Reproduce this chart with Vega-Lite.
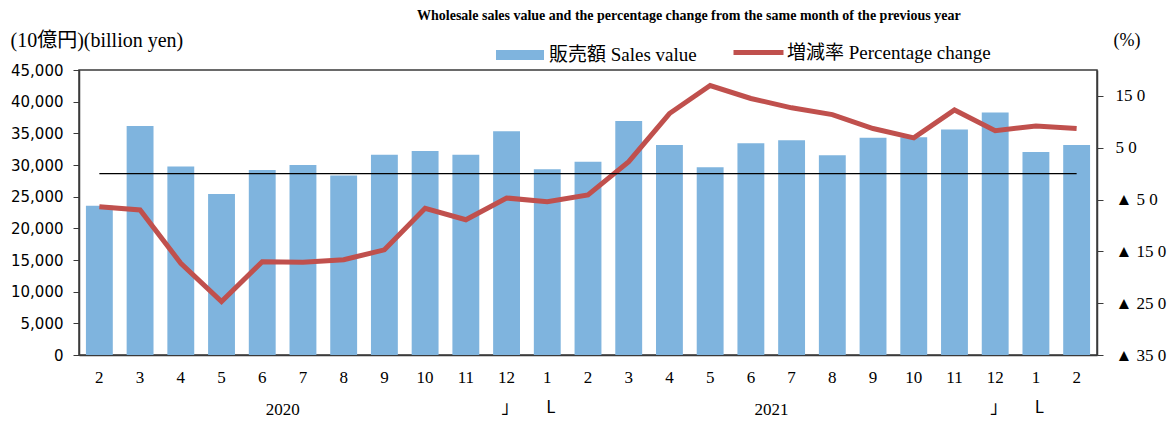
{
  "$schema": "https://vega.github.io/schema/vega-lite/v6.json",
  "width": 1018,
  "height": 285,
  "autosize": {"type": "none"},
  "padding": {"left": 79, "top": 70, "right": 79, "bottom": 70},
  "background": "white",
  "config": {
    "view": {"stroke": "#3a3a3a", "strokeWidth": 1.5},
    "font": "Liberation Serif",
    "axis": {"labelColor": "black", "titleColor": "black", "domainColor": "#3a3a3a", "tickColor": "#3a3a3a", "domainWidth": 1.5}
  },
  "title": {
    "text": "Wholesale sales value and the percentage change from the same month of the previous year",
    "anchor": "start",
    "frame": "group",
    "dx": 338,
    "font": "Liberation Serif",
    "fontSize": 14,
    "fontWeight": "bold",
    "color": "black",
    "offset": 2
  },
  "data": {
    "values": [
      {"ym": "2020-2", "sales": 23550, "pct": -6.4},
      {"ym": "2020-3", "sales": 36170, "pct": -7.0},
      {"ym": "2020-4", "sales": 29750, "pct": -17.3},
      {"ym": "2020-5", "sales": 25440, "pct": -24.7},
      {"ym": "2020-6", "sales": 29230, "pct": -17.0},
      {"ym": "2020-7", "sales": 30000, "pct": -17.1},
      {"ym": "2020-8", "sales": 28330, "pct": -16.6},
      {"ym": "2020-9", "sales": 31600, "pct": -14.7},
      {"ym": "2020-10", "sales": 32200, "pct": -6.7},
      {"ym": "2020-11", "sales": 31600, "pct": -8.9},
      {"ym": "2020-12", "sales": 35330, "pct": -4.7},
      {"ym": "2021-1", "sales": 29330, "pct": -5.4},
      {"ym": "2021-2", "sales": 30500, "pct": -4.1},
      {"ym": "2021-3", "sales": 36950, "pct": 2.3},
      {"ym": "2021-4", "sales": 33170, "pct": 11.6},
      {"ym": "2021-5", "sales": 29650, "pct": 17.0},
      {"ym": "2021-6", "sales": 33440, "pct": 14.5},
      {"ym": "2021-7", "sales": 33900, "pct": 12.7},
      {"ym": "2021-8", "sales": 31550, "pct": 11.4},
      {"ym": "2021-9", "sales": 34300, "pct": 8.7},
      {"ym": "2021-10", "sales": 34400, "pct": 6.9},
      {"ym": "2021-11", "sales": 35600, "pct": 12.3},
      {"ym": "2021-12", "sales": 38300, "pct": 8.3},
      {"ym": "2022-1", "sales": 32070, "pct": 9.2},
      {"ym": "2022-2", "sales": 33170, "pct": 8.7}
    ]
  },
  "resolve": {
    "scale": {"x": "independent", "y": "independent", "color": "independent", "stroke": "independent"},
    "axis": {"x": "independent", "y": "independent"}
  },
  "layer": [
    {
      "mark": {"type": "bar"},
      "encoding": {
        "x": {
          "field": "ym", "type": "ordinal", "sort": null,
          "scale": {"paddingInner": 0.34, "paddingOuter": 0.17},
          "axis": {
            "orient": "bottom",
            "title": null, "labelExpr": "split(datum.value,'-')[1]", "ticks": false,
            "labelAngle": 0, "labelFont": "Liberation Serif", "labelFontSize": 17,
            "labelPadding": 14, "labelBaseline": "top"
          }
        },
        "y": {
          "field": "sales", "type": "quantitative",
          "scale": {"domain": [0, 45000]},
          "axis": {
            "orient": "left",
            "values": [0, 5000, 10000, 15000, 20000, 25000, 30000, 35000, 40000, 45000],
            "format": ",d", "grid": false, "tickSize": 6,
            "labelFont": "DejaVu Sans", "labelFontSize": 15, "labelPadding": 10,
            "title": "(10億円)(billion yen)", "titleAngle": 0, "titleAlign": "left",
            "titleBaseline": "middle", "titleX": -69, "titleY": -30,
            "titleFont": "Liberation Serif, 'Noto Sans CJK JP'", "titleFontSize": 20, "titleFontWeight": "normal"
          }
        },
        "color": {
          "datum": "販売額 Sales value",
          "scale": {"range": ["#7fb4de"]},
          "legend": {
            "orient": "none", "legendX": 416, "legendY": -40, "title": null,
            "symbolType": "M-1,-0.21H1V0.21H-1Z", "symbolSize": 2304,
            "labelFont": "Liberation Serif, 'Noto Sans CJK JP'", "labelFontSize": 19,
            "labelOffset": 4, "labelColor": "black", "labelLimit": 400, "symbolOpacity": 1
          }
        }
      }
    },
    {
      "mark": {"type": "line", "strokeWidth": 5},
      "encoding": {
        "x": {
          "field": "ym", "type": "ordinal", "sort": null,
          "axis": {
            "orient": "bottom",
            "title": null, "values": ["2020-6", "2021-6"], "labelExpr": "slice(datum.value,0,4)",
            "domain": false, "ticks": false, "labelOffset": 20, "labelPadding": 46,
            "labelAngle": 0, "labelFont": "Liberation Serif", "labelFontSize": 17, "labelBaseline": "top"
          }
        },
        "y": {
          "field": "pct", "type": "quantitative",
          "scale": {"domain": [-35, 20]},
          "axis": {
            "orient": "right",
            "values": [15, 5, -5, -15, -25, -35],
            "labelExpr": "(datum.value < 0 ? '▲ ' : '') + replace(format(abs(datum.value), '.1f'), '.', ' ')",
            "grid": false, "tickSize": 6, "labelPadding": 12,
            "labelFont": "Liberation Serif", "labelFontSize": 17,
            "title": "(%)", "titleAngle": 0, "titleAlign": "left", "titleBaseline": "middle",
            "titleX": 16, "titleY": -30, "titleFont": "Liberation Serif", "titleFontSize": 18, "titleFontWeight": "normal"
          }
        },
        "stroke": {
          "datum": "増減率 Percentage change",
          "scale": {"range": ["#c0504d"]},
          "legend": {
            "orient": "none", "legendX": 652, "legendY": -45, "title": null,
            "symbolType": "stroke", "symbolSize": 2500, "symbolStrokeWidth": 5,
            "labelFont": "Liberation Serif, 'Noto Sans CJK JP'", "labelFontSize": 19,
            "labelOffset": 1, "labelColor": "black", "labelLimit": 400
          }
        }
      }
    },
    {
      "mark": {"type": "line", "color": "black", "strokeWidth": 1.3},
      "encoding": {
        "x": {
          "field": "ym", "type": "ordinal", "sort": null,
          "axis": {
            "orient": "bottom",
            "title": null, "values": ["2020-12", "2021-1", "2021-12", "2022-1"],
            "labelExpr": "split(datum.value,'-')[1] == '12' ? '」' : 'L'",
            "domain": false, "ticks": false, "labelPadding": 44, "labelOffset": 3,
            "labelAngle": 0, "labelFont": "Noto Sans CJK JP", "labelFontSize": 17, "labelBaseline": "top"
          }
        },
        "y": {"datum": 0, "type": "quantitative", "scale": {"domain": [-35, 20]}, "axis": null}
      }
    }
  ]
}
